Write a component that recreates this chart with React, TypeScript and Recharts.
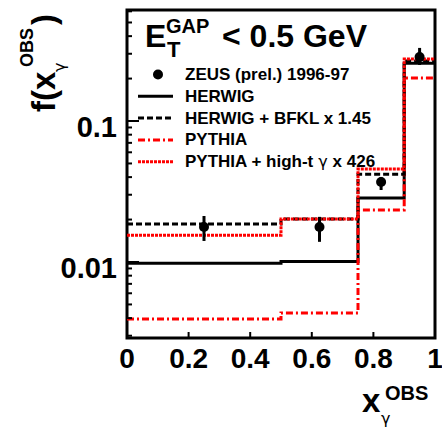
import React from 'react';
import { ComposedChart, Line, Scatter, ErrorBar, XAxis, YAxis, ReferenceArea } from 'recharts';

// bin edges of the histogram and the content of each bin
const binEdges = [0, 0.5, 0.75, 0.9, 1.0];
const herwig = [0.0098, 0.0101, 0.0284, 0.257];
const herwigBfkl = [0.0186, 0.0202, 0.042, 0.266];
const pythia = [0.00394, 0.00435, 0.0234, 0.202];
const pythiaHighT = [0.0155, 0.0202, 0.0457, 0.275];

// ZEUS points
const zeusX = [0.25, 0.625, 0.825, 0.95];
const zeusY = [0.0177, 0.0177, 0.0369, 0.284];
const zeusLo = [0.0141, 0.0139, 0.0324, 0.25];
const zeusHi = [0.0212, 0.0209, 0.0401, 0.33];

const xTicks = [0, 0.2, 0.4, 0.6, 0.8, 1];
const yMajor = [0.01, 0.1];
const yTicks = [0.003, 0.004, 0.005, 0.006, 0.007, 0.008, 0.009, 0.01, 0.02, 0.03, 0.04, 0.05, 0.06, 0.07, 0.08, 0.09, 0.1, 0.2, 0.3, 0.4, 0.5, 0.6];
const yDomain = [0.00289, 0.613];

const FONT = '"Liberation Sans", Arial, Helvetica, sans-serif';

const series = [
  { name: 'HERWIG', vals: herwig, color: '#000', dash: undefined },
  { name: 'PYTHIA', vals: pythia, color: '#ff0000', dash: '7 3 2 3' },
  { name: 'HERWIG + BFKL x 1.45', vals: herwigBfkl, color: '#000', dash: '6 3' },
  { name: 'PYTHIA + high-t', vals: pythiaHighT, color: '#ff0000', dash: '3 1' },
];

const stepData = (vals: number[]) =>
  binEdges.map((x, i) => ({ x, y: vals[Math.min(i, vals.length - 1)] }));

const zeusData = zeusX.map((x, i) => ({
  x,
  y: zeusY[i],
  err: [zeusY[i] - zeusLo[i], zeusHi[i] - zeusY[i]],
}));

const YTick = (props: any) => {
  const { x, y, payload } = props;
  const major = yMajor.includes(payload.value);
  const x0 = x + 10;
  return (
    <g>
      <line x1={x0} x2={x0 + (major ? 12 : 5)} y1={y} y2={y} stroke="#000" strokeWidth={2} />
      {major && (
        <text x={x} y={y} dy={16} textAnchor="end" fontFamily={FONT} fontWeight="bold" fontSize={29} fill="#000">
          {String(payload.value)}
        </text>
      )}
    </g>
  );
};

const XTick = (props: any) => {
  const { x, y, payload } = props;
  return (
    <g>
      <line x1={x} x2={x} y1={y} y2={y - 6} stroke="#000" strokeWidth={2} />
      <text x={x} y={y + 30} textAnchor="middle" fontFamily={FONT} fontWeight="bold" fontSize={28} fill="#000">
        {String(payload.value)}
      </text>
    </g>
  );
};

const legendRows = [
  { label: 'ZEUS (prel.) 1996-97', kind: 'dot' },
  { label: 'HERWIG', kind: 'line', color: '#000', dash: undefined },
  { label: 'HERWIG + BFKL x 1.45', kind: 'line', color: '#000', dash: '6 3' },
  { label: 'PYTHIA', kind: 'line', color: '#ff0000', dash: '7 3 2 3' },
  { label: 'PYTHIA + high-t', kind: 'line', color: '#ff0000', dash: '3 1', tail: ' x 426' },
];

const Overlay = () => (
  <svg width={442} height={427} style={{ position: 'absolute', left: 0, top: 0, pointerEvents: 'none' }}>
    <g fontFamily={FONT} fontWeight="bold" fill="#000">
      {/* title */}
      <text x={145} y={47} fontSize={32}>E</text>
      <text x={166} y={33} fontSize={20}>GAP</text>
      <text x={167} y={57} fontSize={22}>T</text>
      <text x={222} y={47} fontSize={32}>&lt; 0.5 GeV</text>

      {legendRows.map((r, i) => {
        const base = 80 + i * 21.8;
        const my = base - 5.5;
        return (
          <g key={r.label}>
            {r.kind === 'dot' ? (
              <circle cx={158} cy={my} r={5} fill="#000" />
            ) : (
              <line x1={138} x2={173} y1={my} y2={my} stroke={r.color} strokeWidth={3} strokeDasharray={r.dash} />
            )}
            <text x={185} y={base} fontSize={17}>
              {r.label}
              {r.tail && (
                <>
                  <tspan fontWeight="normal" fontFamily="DejaVu Sans, sans-serif" fontSize={16}> γ</tspan>
                  <tspan>{r.tail}</tspan>
                </>
              )}
            </text>
          </g>
        );
      })}

      {/* y axis title */}
      <g transform="translate(55,112) rotate(-90)">
        <text x={0} y={0} fontSize={33}>f(x</text>
        <text x={40} y={10} fontSize={16} fontWeight="normal" fontFamily="DejaVu Sans, sans-serif">γ</text>
        <text x={45} y={-22} fontSize={18}>OBS</text>
        <text x={87} y={0} fontSize={33}>)</text>
      </g>

      {/* x axis title */}
      <text x={362} y={412} fontSize={33}>x</text>
      <text x={381} y={424} fontSize={16} fontWeight="normal" fontFamily="DejaVu Sans, sans-serif">γ</text>
      <text x={385} y={400} fontSize={20}>OBS</text>
    </g>
  </svg>
);

export default function App() {
  return (
    <div style={{ position: 'absolute', left: 0, top: 0, width: 442, height: 427, background: '#fff' }}>
      <ComposedChart width={442} height={427} margin={{ top: 10, right: 7, left: 0, bottom: 0 }}>
        <XAxis
          dataKey="x"
          type="number"
          domain={[0, 1]}
          ticks={xTicks}
          interval={0}
          height={89}
          axisLine={false}
          tickLine={false}
          tickSize={0}
          tickMargin={0}
          tick={<XTick />}
        />
        <YAxis
          dataKey="y"
          type="number"
          scale="log"
          domain={yDomain}
          allowDataOverflow
          ticks={yTicks}
          interval={0}
          width={127}
          axisLine={false}
          tickLine={false}
          tickSize={0}
          tickMargin={10}
          tick={<YTick />}
        />
        {series.map((s) => (
          <Line
            key={s.name}
            data={stepData(s.vals)}
            dataKey="y"
            type="stepAfter"
            stroke={s.color}
            strokeWidth={3}
            strokeDasharray={s.dash}
            dot={false}
            activeDot={false}
            isAnimationActive={false}
          />
        ))}
        <Scatter
          data={zeusData}
          dataKey="y"
          fill="#000"
          isAnimationActive={false}
          shape={(p: any) => <circle cx={p.cx} cy={p.cy} r={5} fill="#000" />}
        >
          <ErrorBar dataKey="err" direction="y" width={0} stroke="#000" strokeWidth={3} isAnimationActive={false} />
        </Scatter>
        <ReferenceArea
          x1={0}
          x2={1}
          y1={yDomain[0]}
          y2={yDomain[1]}
          fill="none"
          fillOpacity={0}
          stroke="#000"
          strokeWidth={3}
          ifOverflow="visible"
        />
      </ComposedChart>
      <Overlay />
    </div>
  );
}
